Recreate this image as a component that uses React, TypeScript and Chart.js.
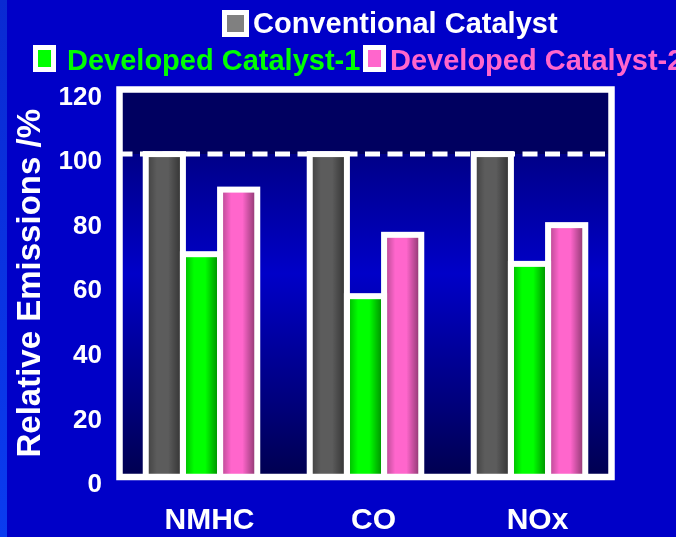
import { useEffect, useRef } from "react";
import { Chart, registerables } from "chart.js";

Chart.register(...registerables);

// ---- data ----
const categories = ["NMHC", "CO", "NOx"];
const seriesNames = ["Conventional Catalyst", "Developed Catalyst-1", "Developed Catalyst-2"];
const conventional = [100, 100, 100];
const developed1 = [69, 56, 66];
const developed2 = [89, 75, 78];
const yTicks = [0, 20, 40, 60, 80, 100, 120];
const referenceLevel = 100;

// ---- styles ----
const FONT = "'Liberation Sans', Arial, Helvetica, sans-serif";
const BAR_COLORS = ["#5c5c5c", "#00ff00", "#ff66cc"];
const SWATCH_COLORS = ["#808080", "#00ff00", "#ff66cc"];
const LEGEND_TEXT_COLORS = ["#ffffff", "#00ff00", "#ff66cc"];
const LEGEND_LAYOUT = [
  { box: [222, 10, 27, 27], textX: 253, baseline: 33 },
  { box: [33, 45, 23, 27], textX: 67, baseline: 69.5 },
  { box: [363, 45, 23, 27], textX: 390, baseline: 69.5 },
];

const slidePlugin = {
  id: "slideDecor",
  beforeDraw(chart: any) {
    const { ctx, width, height } = chart;
    ctx.save();
    ctx.fillStyle = "#0000c8";
    ctx.fillRect(0, 0, width, height);
    const edge = ctx.createLinearGradient(0, 0, 0, height);
    edge.addColorStop(0, "#0a2ad2");
    edge.addColorStop(1, "#0a3cf0");
    ctx.fillStyle = edge;
    ctx.fillRect(0, 0, 7, height);
    ctx.restore();
  },
  beforeDatasetsDraw(chart: any) {
    const { ctx, chartArea: a, scales } = chart;
    const yRef = scales.y.getPixelForValue(referenceLevel);
    ctx.save();
    ctx.fillStyle = "#000060";
    ctx.fillRect(a.left, a.top, a.right - a.left, yRef - a.top);
    const g = ctx.createLinearGradient(0, yRef, 0, a.bottom);
    g.addColorStop(0, "#000088");
    g.addColorStop(0.37, "#0000c8");
    g.addColorStop(1, "#000050");
    ctx.fillStyle = g;
    ctx.fillRect(a.left, yRef, a.right - a.left, a.bottom - yRef);
    // dashed reference line at 100 %
    ctx.strokeStyle = "#ffffff";
    ctx.lineWidth = 5;
    ctx.setLineDash([15, 7.5]);
    ctx.beginPath();
    ctx.moveTo(a.left - 2, yRef);
    ctx.lineTo(a.right, yRef);
    ctx.stroke();
    ctx.restore();
  },
  afterDatasetsDraw(chart: any) {
    const { ctx, chartArea: a } = chart;
    const bars: { l: number; r: number; t: number; b: number }[] = [];
    chart.data.datasets.forEach((_: any, i: number) => {
      chart.getDatasetMeta(i).data.forEach((el: any) => {
        const { x, y, base, width } = el.getProps(["x", "y", "base", "width"], true);
        bars.push({ l: x - width / 2, r: x + width / 2, t: y, b: base });
      });
    });
    ctx.save();
    // cylinder shading
    for (const bar of bars) {
      const g = ctx.createLinearGradient(bar.l, 0, bar.r, 0);
      g.addColorStop(0, "rgba(0,0,0,0.32)");
      g.addColorStop(0.3, "rgba(0,0,0,0)");
      g.addColorStop(0.6, "rgba(0,0,0,0)");
      g.addColorStop(1, "rgba(0,0,0,0.5)");
      ctx.fillStyle = g;
      ctx.fillRect(bar.l, bar.t, bar.r - bar.l, bar.b - bar.t);
    }
    // white outlines
    ctx.strokeStyle = "#ffffff";
    ctx.lineJoin = "miter";
    ctx.lineWidth = 6;
    for (const bar of bars) ctx.strokeRect(bar.l, bar.t, bar.r - bar.l, bar.b - bar.t);
    // plot frame
    ctx.lineWidth = 6.5;
    ctx.strokeRect(a.left, a.top, a.right - a.left, a.bottom - a.top);
    ctx.restore();
  },
  afterDraw(chart: any) {
    const { ctx } = chart;
    ctx.save();
    ctx.font = `bold 29px ${FONT}`;
    ctx.textBaseline = "alphabetic";
    ctx.textAlign = "left";
    chart.data.datasets.forEach((ds: any, i: number) => {
      const lay = LEGEND_LAYOUT[i];
      const [bx, by, bw, bh] = lay.box;
      ctx.fillStyle = "#ffffff";
      ctx.fillRect(bx, by, bw, bh);
      ctx.fillStyle = SWATCH_COLORS[i];
      ctx.fillRect(bx + 5, by + 5, bw - 10, bh - 10);
      ctx.fillStyle = LEGEND_TEXT_COLORS[i];
      ctx.fillText(ds.label, lay.textX, lay.baseline);
    });
    ctx.restore();
  },
};

export default function App() {
  const ref = useRef<HTMLCanvasElement>(null);

  useEffect(() => {
    const seriesValues = [conventional, developed1, developed2];
    const chart = new Chart(ref.current as HTMLCanvasElement, {
      type: "bar",
      data: {
        labels: categories,
        datasets: seriesNames.map((name, i) => ({
          label: name,
          data: seriesValues[i],
          backgroundColor: BAR_COLORS[i],
          borderWidth: 0,
          categoryPercentage: 0.68,
          barPercentage: 1,
        })),
      },
      options: {
        responsive: false,
        animation: false,
        layout: { padding: { top: 89.5, right: 64.5, bottom: 0, left: 0 } },
        plugins: {
          legend: { display: false },
          tooltip: { enabled: false },
        },
        scales: {
          x: {
            grid: { display: false, drawTicks: false },
            border: { display: false },
            ticks: {
              color: "#ffffff",
              font: { family: FONT, size: 30, weight: "bold" },
              padding: 26,
              labelOffset: 8,
              maxRotation: 0,
              autoSkip: false,
            },
            afterFit: (s: any) => {
              s.height = 60;
            },
          },
          y: {
            min: 0,
            max: 120,
            afterBuildTicks: (s: any) => {
              s.ticks = yTicks.map((v) => ({ value: v }));
            },
            grid: { display: false, drawTicks: false },
            border: { display: false },
            ticks: {
              color: "#ffffff",
              font: { family: FONT, size: 26, weight: "bold" },
              padding: 17.5,
              labelOffset: 8,
            },
            title: {
              display: true,
              text: "Relative Emissions /%",
              color: "#ffffff",
              font: { family: FONT, size: 33, weight: "bold" },
              padding: { top: 11.5, bottom: 0 },
            },
            afterFit: (s: any) => {
              s.width = 119.5;
            },
          },
        },
      },
      plugins: [slidePlugin],
    } as any);
    return () => chart.destroy();
  }, []);

  return (
    <div style={{ position: "fixed", left: 0, top: 0, width: 676, height: 537, background: "#0000c8" }}>
      <canvas ref={ref} width={676} height={537} style={{ display: "block" }} />
    </div>
  );
}
